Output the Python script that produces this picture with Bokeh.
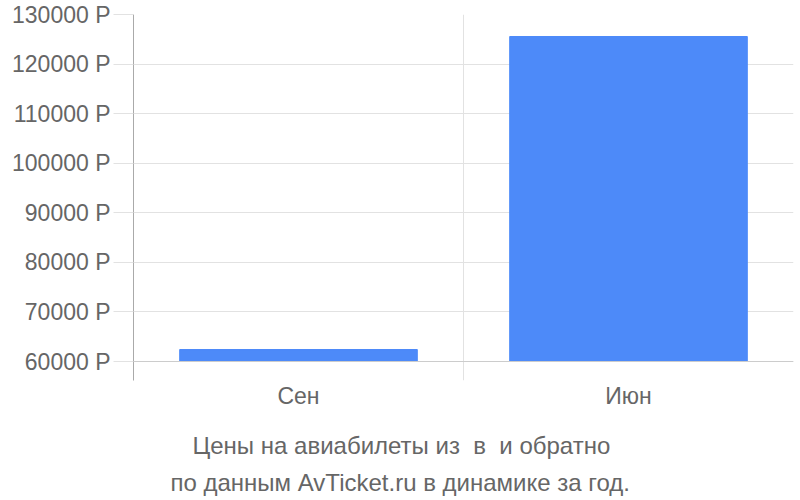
from bokeh.plotting import figure
from bokeh.models import (Range1d, FixedTicker, PrintfTickFormatter, Span,
                          Title, ColumnDataSource)
from bokeh.embed import file_html
from bokeh.resources import INLINE

# data
months = ["Сен", "Июн"]
prices = [62420, 125560]
y_ticks = [60000, 70000, 80000, 90000, 100000, 110000, 120000, 130000]
baseline = 60000

FONT = "Liberation Sans"
TEXT = "#666666"

xs = [i + 0.5 for i in range(len(months))]
source = ColumnDataSource(dict(x=xs, top=prices, month=months))

p = figure(width=800, height=500, output_backend="svg", toolbar_location=None,
           x_range=Range1d(0, len(months)), y_range=Range1d(56170, 130000),
           min_border_left=133, min_border_right=7, min_border_top=14,
           min_border_bottom=120)
p.outline_line_color = None

p.vbar(x="x", top="top", bottom=baseline, width=0.72, source=source,
       fill_color="#4d8af9", line_color="#4d8af9")

# horizontal grid
p.ygrid.ticker = FixedTicker(ticks=y_ticks)
p.ygrid.grid_line_color = "#e2e2e2"
p.add_layout(Span(location=baseline, dimension="width",
                  line_color="#cccccc", line_width=1))

# vertical lines between categories
p.xgrid.ticker = FixedTicker(ticks=list(range(len(months) + 1)))
p.xgrid.grid_line_color = "#e2e2e2"

# y axis
p.yaxis.ticker = FixedTicker(ticks=y_ticks)
p.yaxis.formatter = PrintfTickFormatter(format="%d Р")
p.yaxis.axis_line_color = "#aaaaaa"
p.yaxis.major_tick_line_color = "#e2e2e2"
p.yaxis.major_tick_out = 20
p.yaxis.major_tick_in = 0
p.yaxis.minor_tick_line_color = None
p.yaxis.major_label_standoff = 3
p.yaxis.major_label_text_font = FONT
p.yaxis.major_label_text_font_size = "23px"
p.yaxis.major_label_text_color = TEXT

# x axis
p.xaxis.ticker = FixedTicker(ticks=xs)
p.xaxis.major_label_overrides = {x: m for x, m in zip(xs, months)}
p.xaxis.axis_line_color = None
p.xaxis.major_tick_line_color = None
p.xaxis.minor_tick_line_color = None
p.xaxis.major_label_standoff = -4
p.xaxis.major_label_text_font = FONT
p.xaxis.major_label_text_font_size = "23px"
p.xaxis.major_label_text_color = TEXT

# caption under the chart (left aligned, shifted so it sits centred on the page)
caption = ["Цены на авиабилеты из\u00a0 в\u00a0 и обратно",
           "по данным AvTicket.ru в динамике за год."]
offsets = [59, 37]
standoffs = [36, -38]
for line, off, so in zip(caption, offsets, standoffs):
    p.add_layout(Title(text=line, align="left", offset=off, standoff=so,
                       text_font=FONT, text_font_size="24px",
                       text_line_height=1.0,
                       text_font_style="normal", text_color=TEXT), "below")

open("out.html", "w").write(file_html(p, INLINE))
